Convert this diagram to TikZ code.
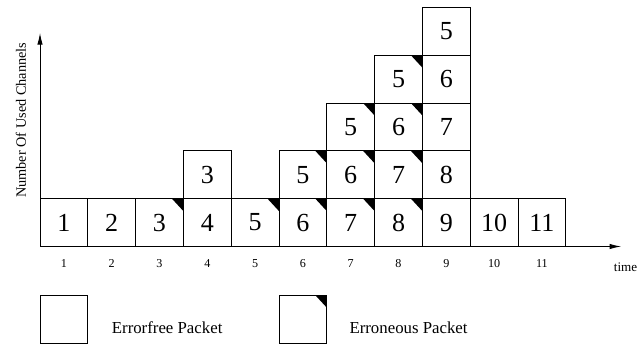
\documentclass[tikz,border=0pt]{standalone}
\usepackage{fontspec}
\setmainfont{Liberation Serif}
\usetikzlibrary{arrows.meta, positioning}

\begin{document}
\begin{tikzpicture}[
  pkt/.style={draw, line width=0.6pt, minimum size=1cm, inner sep=0pt, font=\fontsize{15.5}{17}\selectfont},
  errpkt/.style={pkt, path picture={\fill (path picture bounding box.north east) -- ++(-0.24,0) -- ++(0.24,-0.26) -- cycle;}},
  tick/.style={font=\fontsize{7.2}{9}\selectfont},
  lbl/.style={font=\fontsize{10}{12}\selectfont},
  axis/.style={line width=0.6pt, -{Latex[length=7pt,width=3.2pt]}}
]
\useasboundingbox (-0.837,-2.061) rectangle (12.531,5.157);

% Axes
\coordinate (origin) at (0,0);
\coordinate (ytop) at (0,4.47);
\coordinate (xend) at (12.16,0);
\draw[axis] (origin) -- (ytop);
\draw[axis] (origin) -- (xend);
\node[font=\fontsize{8.5}{10}\selectfont, rotate=90] (ylabel) at (-0.40,2.64) {Number Of Used Channels};
\node[font=\fontsize{7.8}{9}\selectfont] (xlabel) at (12.25,-0.44) {time};

% Time slots
\foreach \t in {1,...,11} {
  \node[tick] (t\t) at (\t-0.5,-0.36) {\t};
}

% Errorfree packets (column/row/number)
\foreach \c/\r/\n in {1/1/1, 2/1/2, 4/1/4, 4/2/3, 9/1/9, 9/2/8, 9/3/7, 9/4/6, 9/5/5, 10/1/10, 11/1/11} {
  \node[pkt] (p\c-\r) at (\c-0.5,\r-0.5) {\n};
}

% Erroneous packets
\foreach \c/\r/\n in {3/1/3, 5/1/5, 6/1/6, 6/2/5, 7/1/7, 7/2/6, 7/3/5, 8/1/8, 8/2/7, 8/3/6, 8/4/5} {
  \node[errpkt] (p\c-\r) at (\c-0.5,\r-0.5) {\n};
}

% Legend
\node[pkt] (okbox) at (0.5,-1.52) {};
\node[lbl] (oktext) at (2.66,-1.70) {Errorfree Packet};
\node[errpkt] (errbox) at (5.5,-1.52) {};
\node[lbl] (errtext) at (7.71,-1.70) {Erroneous Packet};
\end{tikzpicture}
\end{document}
